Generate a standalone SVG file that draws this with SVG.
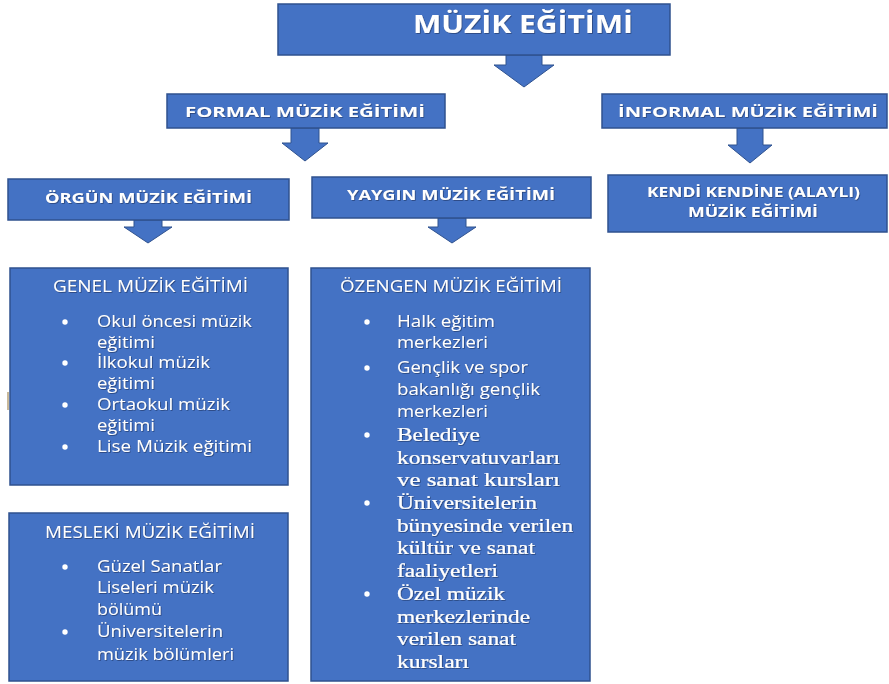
<svg xmlns="http://www.w3.org/2000/svg" width="889" height="684" viewBox="0 0 889 684">
<defs>
<filter id="ts" x="-5%" y="-30%" width="110%" height="160%">
<feDropShadow dx="0.8" dy="0.8" stdDeviation="0.7" flood-color="#1a2f5a" flood-opacity="0.7"/>
</filter>
</defs>
<style>
.box{fill:#4472C4;stroke:#2F528F;stroke-width:1.5}
.arr{fill:#4472C4;stroke:#2F528F;stroke-width:1}
text{fill:#ffffff;filter:url(#ts)}
.h{font-family:"Open Sans","Liberation Sans",sans-serif;font-weight:700}
.s{font-family:"Open Sans","Liberation Sans",sans-serif;font-size:15.5px;font-weight:500}
.r{font-family:"Liberation Serif","Times New Roman",serif;font-size:18.5px;stroke:#ffffff;stroke-width:0.2}
.b{fill:#ffffff}
</style>
<rect width="889" height="684" fill="#ffffff"/>
<rect x="7" y="392" width="2" height="18" fill="#c8b89a"/>

<g id="connectors">
<polygon class="arr" points="506,55 542,55 542,65 554,65 524,87 494,65 506,65"/>
<polygon class="arr" points="291,128 319,128 319,143 328,143 305,161 282,143 291,143"/>
<polygon class="arr" points="737,128 763,128 763,145 772,145 750,163 728,145 737,145"/>
<polygon class="arr" points="134,220 162,220 162,227 172,227 148,243 124,227 134,227"/>
<polygon class="arr" points="438,218 466,218 466,227 476,227 452,243 428,227 438,227"/>
</g>

<g id="muzik-egitimi">
<rect class="box" x="278" y="4" width="392" height="51"/>
<text class="h" x="413" y="33" font-size="25" textLength="220" lengthAdjust="spacingAndGlyphs">MÜZİK EĞİTİMİ</text>
</g>

<g id="formal">
<rect class="box" x="167" y="94" width="278" height="34"/>
<text class="h" x="185" y="117" font-size="15" textLength="240" lengthAdjust="spacingAndGlyphs">FORMAL MÜZİK EĞİTİMİ</text>
</g>

<g id="informal">
<rect class="box" x="602" y="94" width="285" height="34"/>
<text class="h" x="618" y="117" font-size="15" textLength="260" lengthAdjust="spacingAndGlyphs">İNFORMAL MÜZİK EĞİTİMİ</text>
</g>

<g id="orgun">
<rect class="box" x="8" y="179" width="281" height="41"/>
<text class="h" x="45" y="203" font-size="14.5" textLength="207" lengthAdjust="spacingAndGlyphs">ÖRGÜN MÜZİK EĞİTİMİ</text>
</g>

<g id="yaygin">
<rect class="box" x="312" y="177" width="279" height="41"/>
<text class="h" x="347" y="200" font-size="14.5" textLength="208" lengthAdjust="spacingAndGlyphs">YAYGIN MÜZİK EĞİTİMİ</text>
</g>

<g id="kendi-kendine">
<rect class="box" x="608" y="175" width="279" height="57"/>
<text class="h" x="647" y="197" font-size="14" textLength="213" lengthAdjust="spacingAndGlyphs">KENDİ KENDİNE (ALAYLI)</text>
<text class="h" x="688" y="217" font-size="14" textLength="130" lengthAdjust="spacingAndGlyphs">MÜZİK EĞİTİMİ</text>
</g>

<g id="genel">
<rect class="box" x="10" y="268" width="278" height="217"/>
<text class="s" x="53" y="292" textLength="195" lengthAdjust="spacingAndGlyphs">GENEL MÜZİK EĞİTİMİ</text>
<circle class="b" cx="65" cy="322" r="2.7"/>
<circle class="b" cx="65" cy="363" r="2.7"/>
<circle class="b" cx="65" cy="405" r="2.7"/>
<circle class="b" cx="65" cy="447" r="2.7"/>
<text class="s" x="97" y="327" textLength="155" lengthAdjust="spacingAndGlyphs">Okul öncesi müzik</text>
<text class="s" x="97" y="348" textLength="58" lengthAdjust="spacingAndGlyphs">eğitimi</text>
<text class="s" x="97" y="368" textLength="113" lengthAdjust="spacingAndGlyphs">İlkokul müzik</text>
<text class="s" x="97" y="389" textLength="58" lengthAdjust="spacingAndGlyphs">eğitimi</text>
<text class="s" x="97" y="410" textLength="133" lengthAdjust="spacingAndGlyphs">Ortaokul müzik</text>
<text class="s" x="97" y="431" textLength="58" lengthAdjust="spacingAndGlyphs">eğitimi</text>
<text class="s" x="97" y="452" textLength="155" lengthAdjust="spacingAndGlyphs">Lise Müzik eğitimi</text>
</g>

<g id="mesleki">
<rect class="box" x="9" y="513" width="279" height="168"/>
<text class="s" x="45" y="538" textLength="210" lengthAdjust="spacingAndGlyphs">MESLEKİ MÜZİK EĞİTİMİ</text>
<circle class="b" cx="65" cy="567" r="2.7"/>
<circle class="b" cx="65" cy="632" r="2.7"/>
<text class="s" x="97" y="572" textLength="125" lengthAdjust="spacingAndGlyphs">Güzel Sanatlar</text>
<text class="s" x="97" y="593" textLength="117" lengthAdjust="spacingAndGlyphs">Liseleri müzik</text>
<text class="s" x="97" y="615" textLength="65" lengthAdjust="spacingAndGlyphs">bölümü</text>
<text class="s" x="97" y="637" textLength="126" lengthAdjust="spacingAndGlyphs">Üniversitelerin</text>
<text class="s" x="97" y="660" textLength="137" lengthAdjust="spacingAndGlyphs">müzik bölümleri</text>
</g>

<g id="ozengen">
<rect class="box" x="311" y="268" width="279" height="413"/>
<text class="s" x="340" y="292" textLength="222" lengthAdjust="spacingAndGlyphs">ÖZENGEN MÜZİK EĞİTİMİ</text>
<circle class="b" cx="367" cy="322" r="2.7"/>
<circle class="b" cx="367" cy="368" r="2.7"/>
<circle class="b" cx="367" cy="435" r="2.7"/>
<circle class="b" cx="367" cy="503" r="2.7"/>
<circle class="b" cx="367" cy="594" r="2.7"/>
<text class="s" x="397" y="327" textLength="98" lengthAdjust="spacingAndGlyphs">Halk eğitim</text>
<text class="s" x="397" y="348" textLength="91" lengthAdjust="spacingAndGlyphs">merkezleri</text>
<text class="s" x="397" y="373" textLength="131" lengthAdjust="spacingAndGlyphs">Gençlik ve spor</text>
<text class="s" x="397" y="395" textLength="143" lengthAdjust="spacingAndGlyphs">bakanlığı gençlik</text>
<text class="s" x="397" y="417" textLength="91" lengthAdjust="spacingAndGlyphs">merkezleri</text>
<text class="r" x="397" y="441" textLength="83" lengthAdjust="spacingAndGlyphs">Belediye</text>
<text class="r" x="397" y="464" textLength="163" lengthAdjust="spacingAndGlyphs">konservatuvarları</text>
<text class="r" x="397" y="486" textLength="163" lengthAdjust="spacingAndGlyphs">ve sanat kursları</text>
<text class="r" x="397" y="509" textLength="140" lengthAdjust="spacingAndGlyphs">Üniversitelerin</text>
<text class="r" x="397" y="532" textLength="176" lengthAdjust="spacingAndGlyphs">bünyesinde verilen</text>
<text class="r" x="397" y="554" textLength="138" lengthAdjust="spacingAndGlyphs">kültür ve sanat</text>
<text class="r" x="397" y="577" textLength="101" lengthAdjust="spacingAndGlyphs">faaliyetleri</text>
<text class="r" x="397" y="600" textLength="108" lengthAdjust="spacingAndGlyphs">Özel müzik</text>
<text class="r" x="397" y="623" textLength="133" lengthAdjust="spacingAndGlyphs">merkezlerinde</text>
<text class="r" x="397" y="645" textLength="119" lengthAdjust="spacingAndGlyphs">verilen sanat</text>
<text class="r" x="397" y="668" textLength="72" lengthAdjust="spacingAndGlyphs">kursları</text>
</g>
</svg>
